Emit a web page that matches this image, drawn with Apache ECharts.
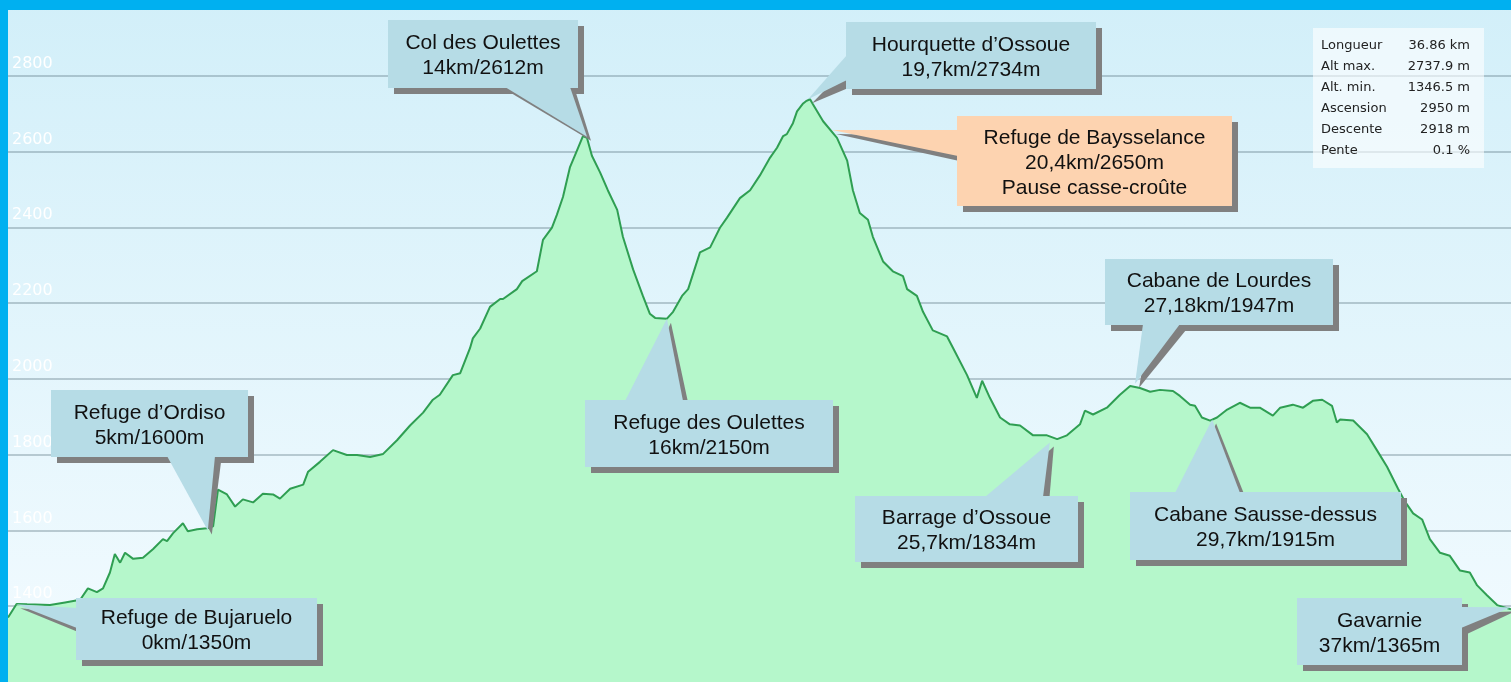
<!DOCTYPE html>
<html>
<head>
<meta charset="utf-8">
<title>Profil Bujaruelo - Gavarnie</title>
<script src="https://cdn.jsdelivr.net/npm/echarts/dist/echarts.min.js"></script>
<style>
html, body { margin: 0; padding: 0; }
#profil { width: 1511px; height: 682px; }
</style>
</head>
<body>
<div id="profil"></div>
<script>
// profil : distance (km) / altitude (m)
var distances = [
    0, 0.21, 0.47, 1.03, 1.40, 1.77, 1.96, 2.18, 2.33, 2.50,
    2.62, 2.75, 2.87, 3.07, 3.31, 3.56, 3.80, 3.90, 4.05, 4.29,
    4.41, 4.64, 4.88, 5.03, 5.15, 5.37, 5.57, 5.76, 6.01, 6.25,
    6.50, 6.67, 6.92, 7.24, 7.36, 7.65, 7.97, 8.31, 8.56, 8.88,
    9.20, 9.54, 9.86, 10.18, 10.42, 10.59, 10.91, 11.09, 11.33, 11.40,
    11.58, 11.82, 12.07, 12.14, 12.48, 12.61, 12.97, 13.12, 13.34, 13.46,
    13.61, 13.78, 13.95, 14.10, 14.20, 14.32, 14.52, 14.71, 14.94, 15.08,
    15.33, 15.57, 15.74, 15.87, 16.16, 16.31, 16.53, 16.68, 16.97, 17.22,
    17.46, 17.63, 17.95, 18.20, 18.44, 18.69, 18.86, 19.01, 19.10, 19.25,
    19.35, 19.50, 19.57, 19.67, 19.74, 19.99, 20.33, 20.58, 20.72, 20.89,
    21.09, 21.21, 21.46, 21.70, 21.95, 22.05, 22.29, 22.44, 22.68, 23.03,
    23.18, 23.52, 23.76, 23.89, 24.08, 24.33, 24.57, 24.82, 25.14, 25.48,
    25.73, 25.97, 26.29, 26.41, 26.61, 26.95, 27.27, 27.52, 27.76, 28.01,
    28.25, 28.57, 28.74, 28.99, 29.11, 29.28, 29.48, 29.65, 29.90, 30.21,
    30.46, 30.70, 31.02, 31.20, 31.51, 31.76, 32.00, 32.23, 32.47, 32.59,
    32.67, 32.99, 33.33, 33.57, 33.82, 34.09, 34.26, 34.46, 34.68, 34.87,
    35.12, 35.36, 35.61, 35.85, 36.03, 36.27, 36.52, 36.76, 36.86
];
var altitudes = [
    1370, 1406, 1405, 1403, 1410, 1417, 1447, 1437, 1447, 1489,
    1538, 1515, 1541, 1525, 1528, 1551, 1577, 1572, 1593, 1619,
    1598, 1603, 1606, 1611, 1708, 1695, 1663, 1682, 1674, 1697,
    1695, 1684, 1710, 1721, 1755, 1781, 1812, 1799, 1799, 1794,
    1802, 1838, 1877, 1911, 1945, 1958, 2010, 2015, 2081, 2107,
    2133, 2190, 2211, 2211, 2237, 2258, 2284, 2367, 2399, 2433,
    2480, 2558, 2602, 2641, 2636, 2589, 2545, 2498, 2446, 2375,
    2289, 2219, 2172, 2161, 2159, 2177, 2219, 2237, 2334, 2347,
    2399, 2425, 2477, 2498, 2537, 2584, 2610, 2641, 2646, 2675,
    2706, 2727, 2733, 2738, 2725, 2680, 2636, 2576, 2498, 2438,
    2420, 2375, 2310, 2284, 2271, 2237, 2219, 2177, 2128, 2112,
    2081, 2010, 1950, 1995, 1950, 1898, 1880, 1877, 1851, 1851,
    1841, 1851, 1880, 1916, 1906, 1924, 1958, 1981, 1976, 1966,
    1971, 1968, 1955, 1932, 1929, 1898, 1890, 1898, 1919, 1937,
    1924, 1924, 1903, 1924, 1932, 1924, 1942, 1945, 1929, 1885,
    1893, 1890, 1854, 1812, 1768, 1710, 1676, 1645, 1629, 1577,
    1541, 1533, 1494, 1489, 1455, 1429, 1403, 1395, 1392
];

// étapes : texte + point visé sur le profil
var etapes = [
    'Refuge de Bujaruelo\n0km/1350m',
    'Refuge d\u2019Ordiso\n5km/1600m',
    'Col des Oulettes\n14km/2612m',
    'Refuge des Oulettes\n16km/2150m',
    'Hourquette d\u2019Ossoue\n19,7km/2734m',
    'Refuge de Baysselance\n20,4km/2650m\nPause casse-croûte',
    'Barrage d\u2019Ossoue\n25,7km/1834m',
    'Cabane de Lourdes\n27,18km/1947m',
    'Cabane Sausse-dessus\n29,7km/1915m',
    'Gavarnie\n37km/1365m'
];
var etapeKm = [0.2, 4.90, 14.20, 16.16, 19.62, 20.21, 25.55, 27.64, 29.53, 36.86];
var etapeAlt = [1405, 1600, 2639, 2159, 2738, 2657, 1832, 1987, 1893, 1397];

var statLabels = ['Longueur', 'Alt max.', 'Alt. min.', 'Ascension', 'Descente', 'Pente'];
var statValues = ['36.86 km', '2737.9 m', '1346.5 m', '2950 m', '2918 m', '0.1 %'];

// mise en page des bulles (pixels)
var bulles = [
    [76, 598, 241, 62], [51, 390, 197, 67], [388, 20, 190, 68], [585, 400, 248, 67],
    [846, 22, 250, 67], [957, 116, 275, 90], [855, 496, 223, 66], [1105, 259, 228, 66],
    [1130, 492, 271, 68], [1297, 598, 165, 67]
];
var bases = [
    [[77, 608], [77, 628]], [[167, 456], [215, 456]], [[505, 87], [570, 87]], [[625, 401], [683, 401]],
    [[847, 55], [847, 80]], [[958, 130], [958, 156]], [[985, 497], [1043, 497]], [[1143, 324], [1180, 324]],
    [[1175, 493], [1240, 493]], [[1461, 607], [1461, 628]]
];

var chart = echarts.init(document.getElementById('profil'));
var profil = distances.map(function (d, i) { return [d, altitudes[i]]; });

chart.setOption({
    animation: false,
    backgroundColor: new echarts.graphic.LinearGradient(0, 0, 0, 1, [
        {offset: 0, color: '#d2eff9'},
        {offset: 1, color: '#f3fbff'}
    ]),
    grid: {left: 8, right: 0, top: -3, bottom: -6},
    xAxis: {type: 'value', min: 0, max: 36.86, show: false},
    yAxis: {
        type: 'value', min: 1200, max: 3000, interval: 200, z: 3,
        axisLine: {show: false},
        axisTick: {show: false},
        splitLine: {lineStyle: {color: 'rgba(90,115,125,0.35)', width: 2}},
        axisLabel: {
            inside: true, margin: 4, color: '#ffffff',
            fontFamily: 'DejaVu Sans', fontSize: 16,
            verticalAlign: 'bottom', padding: [0, 0, 4, 0],
            showMinLabel: false, showMaxLabel: false,
            formatter: function (v) { return String(v); }
        }
    },
    series: [{
        type: 'line',
        data: profil,
        symbol: 'none',
        lineStyle: {color: '#2f9e52', width: 2},
        areaStyle: {color: '#b5f7cb', opacity: 1, origin: 'start'}
    }]
});

var elements = [];
etapes.forEach(function (txt, i) {
    var b = bulles[i];
    var tip = chart.convertToPixel({gridIndex: 0}, [etapeKm[i], etapeAlt[i]]);
    var p = bases[i];
    var fond = i === 5 ? '#fdd3b0' : '#b6dce6';
    // ombre
    elements.push({type: 'rect', z: 10, shape: {x: b[0] + 6, y: b[1] + 6, width: b[2], height: b[3]},
        style: {fill: '#808080'}});
    elements.push({type: 'polygon', z: 10,
        shape: {points: [[p[0][0] + 6, p[0][1] + 6], [p[1][0] + 6, p[1][1] + 6], [tip[0] + 4, tip[1] + 4]]},
        style: {fill: '#808080'}});
    // bulle
    elements.push({type: 'polygon', z: 11, shape: {points: [p[0], p[1], tip]}, style: {fill: fond}});
    elements.push({type: 'rect', z: 11, shape: {x: b[0], y: b[1], width: b[2], height: b[3]},
        style: {fill: fond}});
    elements.push({type: 'text', z: 12, x: b[0] + b[2] / 2, y: b[1] + b[3] / 2 + 2,
        style: {text: txt, fill: '#111', font: '21px "Liberation Sans"', lineHeight: 25,
            align: 'center', verticalAlign: 'middle', textAlign: 'center', textVerticalAlign: 'middle'}});
});

// encadré des stats
elements.push({type: 'rect', z: 12, shape: {x: 1313, y: 28, width: 171, height: 140},
    style: {fill: 'rgba(255,255,255,0.6)'}});
statLabels.forEach(function (lab, i) {
    elements.push({type: 'text', z: 13, x: 1321, y: 46 + i * 21,
        style: {text: lab, fill: '#222', font: '13px "DejaVu Sans"', align: 'left', verticalAlign: 'middle',
            textAlign: 'left', textVerticalAlign: 'middle'}});
    elements.push({type: 'text', z: 13, x: 1470, y: 46 + i * 21,
        style: {text: statValues[i], fill: '#222', font: '13px "DejaVu Sans"', align: 'right', verticalAlign: 'middle',
            textAlign: 'right', textVerticalAlign: 'middle'}});
});

// cadre bleu
elements.push({type: 'rect', z: 100, shape: {x: 0, y: 0, width: 1511, height: 10}, style: {fill: '#00b0f0'}});
elements.push({type: 'rect', z: 100, shape: {x: 0, y: 0, width: 8, height: 682}, style: {fill: '#00b0f0'}});

chart.setOption({graphic: elements});
</script>
</body>
</html>
